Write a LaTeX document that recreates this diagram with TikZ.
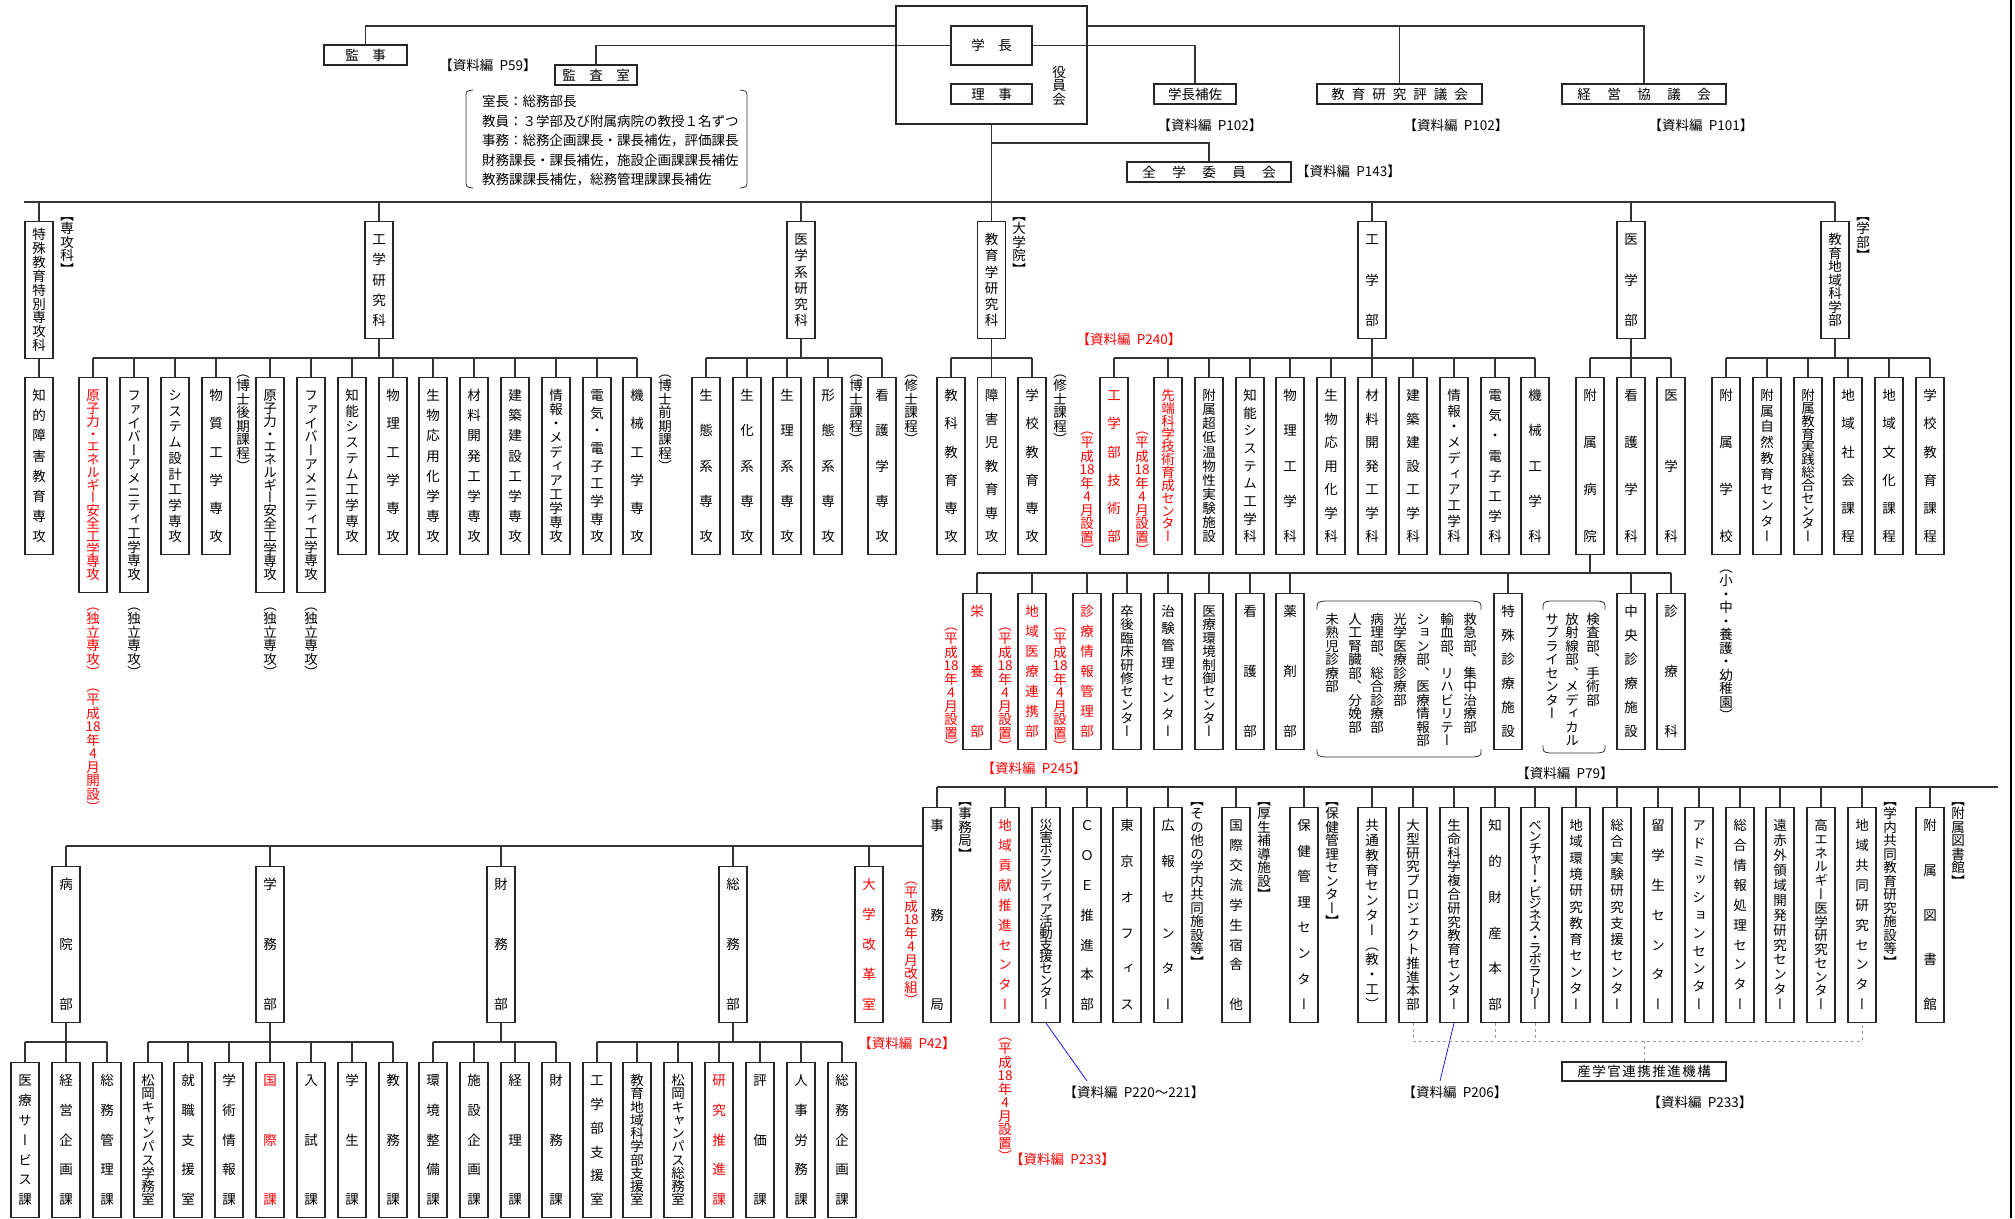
\documentclass[tikz,border=0pt]{standalone}
\usepackage{fontspec}
\setmainfont{Noto Sans CJK JP}
\newfontfamily\vjp[RawFeature=+vert]{Noto Sans CJK JP}
\definecolor{jred}{RGB}{255,0,0}
\definecolor{jblue}{RGB}{0,0,255}
\newcommand\fs{\fontsize{13.5}{16}\selectfont}
\newcommand\shiryo[1]{【資料編\hspace{.45em}P#1】}
\makeatletter
% one character per cell, cells stacked top to bottom
\newcommand\vtc[1]{\hbox to 1em{\hss\vrule height .88em depth .12em width 0pt\relax #1\hss}}
\def\vt@go#1#2#3{\vbox to \dimexpr#2pt-#3pt\relax{\offinterlineskip\vjp\let\vt@sep\relax
  \@tfor\vt@c:=#1\do{\vt@sep\vtc{\vt@c}\let\vt@sep\vss}}}
\newcommand\vt[3][24]{\expandafter\vt@go\expandafter{#3}{#2}{#1}}
\def\vtn@go#1{\vbox{\offinterlineskip\vjp\@tfor\vt@c:=#1\do{\vtc{\vt@c}}}}
\newcommand\vtn[1]{\expandafter\vtn@go\expandafter{#1}}
\newcommand\hsp[2]{\let\vt@sep\relax\@tfor\vt@c:=#2\do{\vt@sep\vt@c\def\vt@sep{\hspace{#1}}}}
\makeatother

\begin{document}
\begin{tikzpicture}[x=1pt, y=-1pt,
  unit/.style={draw=black!85, line width=1.1pt, fill=white, inner sep=0pt, minimum width=28pt, anchor=north, font=\fs},
  hbox/.style={draw=black!85, line width=1.1pt, inner sep=0pt, font=\fs},
  conn/.style={draw=black!80, line width=1.1pt},
  sglink/.style={draw=black!40, dashed, line width=0.7pt},
  reflink/.style={draw=jblue, line width=0.7pt},
  tag/.style={inner sep=0pt, anchor=north, font=\fs},
  ref/.style={inner sep=0pt, font=\fs}]
\useasboundingbox (0,0) rectangle (2015,1218);

% top management
\node[hbox, minimum width=191, minimum height=118] (yakuin) at (991.5,65) {};
\node[hbox, minimum width=81, minimum height=39] (gakucho) at (991.5,45.5) {学　長};
\node[hbox, minimum width=81, minimum height=20] (riji) at (991.5,94) {理　事};
\node[tag] (yakuinlbl) at (1059,65) {\vtn{役員会}};
\node[hbox, minimum width=83, minimum height=20] (kanji) at (365.5,55) {監　事};
\node[hbox, minimum width=82, minimum height=20] (kansa) at (596,75) {監　査　室};
\node[hbox, minimum width=82, minimum height=20] (hosa) at (1195,94) {学長補佐};
\node[hbox, minimum width=165, minimum height=20] (hyogi) at (1399.5,94) {\hsp{7pt}{教育研究評議会}};
\node[hbox, minimum width=164, minimum height=20] (keiei) at (1644,94) {\hsp{16.5pt}{経営協議会}};
\node[hbox, minimum width=164, minimum height=20] (zengaku) at (1209,172) {\hsp{16.5pt}{全学委員会}};

\node[ref] (r59) at (488,65) {\shiryo{59}};
\node[ref] (r102a) at (1210,125) {\shiryo{102}};
\node[ref] (r102b) at (1456,125) {\shiryo{102}};
\node[ref] (r101) at (1701,125) {\shiryo{101}};
\node[ref, anchor=west] (r143) at (1296,171) {\shiryo{143}};

\node[inner sep=0pt, anchor=north west, align=left, font={\fontsize{13.5}{19.5}\selectfont}] (memo) at (482,95)
  {室長：総務部長\\教員：３学部及び附属病院の教授１名ずつ\\事務：総務企画課長・課長補佐，評価課長\\財務課長・課長補佐，施設企画課課長補佐\\教務課課長補佐，総務管理課課長補佐};
\draw[black!80, line width=0.8pt] (473,90) .. controls (466,91) .. (466,98) -- (466,180) .. controls (466,187) .. (473,188);
\draw[black!80, line width=0.8pt] (740,90) .. controls (747,91) .. (747,98) -- (747,180) .. controls (747,187) .. (740,188);

\coordinate (rail) at (0,26);
\coordinate (zbr) at (0,143);
\coordinate (bus) at (0,202);
\draw[conn] (kanji.north) |- (yakuin.west |- rail);
\draw[conn] (yakuin.east |- rail) -| (keiei.north);
\draw[conn] (hyogi.north) -- (hyogi.north |- rail);
\draw[conn] (gakucho.west) -| (kansa.north);
\draw[conn] (gakucho.east) -| (hosa.north);
\draw[conn] (yakuin.south) -- (yakuin.south |- bus);
\draw[conn] (yakuin.south |- zbr) -| (zengaku.north);

% graduate schools and faculties
\node[unit, minimum height=137] (spc) at (39,221) {\vt[14]{137}{特殊教育特別専攻科}};
\draw[conn] (spc.north) -- (spc.north |- bus);
\foreach \x/\nm/\tx in {379/eng/工学研究科, 801/med/医学系研究科, 991.5/edu/教育学研究科,
                        1372/engf/工学部, 1631/medf/医学部, 1835/eduf/教育地域科学部}
{
  \node[unit, minimum height=117] (\nm) at (\x,221) {\vt{117}{\tx}};
  \draw[conn] (\nm.north) -- (\nm.north |- bus);
}
\draw[conn] (spc.north west |- bus) -- (eduf.north |- bus);
\node[tag] (t1) at (67,208) {\vtn{【専攻科】}};
\node[tag] (t2) at (1019,208) {\vtn{【大学院】}};
\node[tag] (t3) at (1863,208) {\vtn{【学部】}};

% majors and departments
\coordinate (b3) at (0,358);
\node[unit, minimum height=177] (sp1) at (39,377) {\vt{177}{知的障害教育専攻}};
\draw[conn] (spc.south) -- (sp1.north);
\foreach \x/\nm/\h/\cl/\tx in {
  93/ek1/215/jred/原子力・エネルギー安全工学専攻, 134/ek2/215/black/ファイバーアメニティ工学専攻,
  175/ek3/177/black/システム設計工学専攻, 216/ek4/177/black/物質工学専攻,
  270/ek5/215/black/原子力・エネルギー安全工学専攻, 311/ek6/215/black/ファイバーアメニティ工学専攻,
  352/ek7/177/black/知能システム工学専攻, 393/ek8/177/black/物理工学専攻,
  433/ek9/177/black/生物応用化学専攻, 474/ek10/177/black/材料開発工学専攻,
  515/ek11/177/black/建築建設工学専攻, 556/ek12/177/black/情報・メディア工学専攻,
  597/ek13/177/black/電気・電子工学専攻, 637/ek14/177/black/機械工学専攻,
  706/mk1/177/black/生態系専攻, 747/mk2/177/black/生化系専攻, 787/mk3/177/black/生理系専攻,
  828/mk4/177/black/形態系専攻, 882/mk5/177/black/看護学専攻,
  951/dk1/177/black/教科教育専攻, 991.5/dk2/177/black/障害児教育専攻, 1032/dk3/177/black/学校教育専攻,
  1114/fk1/177/jred/工学部技術部, 1168/fk2/177/jred/先端科学技術育成センター,
  1209/fk3/177/black/附属超低温物性実験施設, 1250/fk4/177/black/知能システム工学科,
  1290/fk5/177/black/物理工学科, 1331/fk6/177/black/生物応用化学科, 1372/fk7/177/black/材料開発工学科,
  1413/fk8/177/black/建築建設工学科, 1454/fk9/177/black/情報・メディア工学科,
  1495/fk10/177/black/電気・電子工学科, 1535/fk11/177/black/機械工学科,
  1590/hk1/177/black/附属病院, 1631/hk2/177/black/看護学科, 1671/hk3/177/black/医学科,
  1726/gk1/177/black/附属学校, 1767/gk2/177/black/附属自然教育センター,
  1808/gk3/177/black/附属教育実践総合センター, 1848/gk4/177/black/地域社会課程,
  1889/gk5/177/black/地域文化課程, 1930/gk6/177/black/学校教育課程}
{
  \node[unit, minimum height=\h, text=\cl] (\nm) at (\x,377) {\vt{\h}{\tx}};
  \draw[conn] (\nm.north) -- (\nm.north |- b3);
}
\draw[conn] (ek1.north |- b3) -- (ek14.north |- b3);
\draw[conn] (mk1.north |- b3) -- (mk5.north |- b3);
\draw[conn] (dk1.north |- b3) -- (dk3.north |- b3);
\draw[conn] (fk1.north |- b3) -- (fk11.north |- b3);
\draw[conn] (hk1.north |- b3) -- (hk3.north |- b3);
\draw[conn] (gk1.north |- b3) -- (gk6.north |- b3);
\foreach \nm in {eng, med, edu, engf, medf, eduf}
  \draw[conn] (\nm.south) -- (\nm.south |- b3);

\node[tag, text=jred] (n1) at (93,598) {\vtn{（独立専攻）（平成{18}年4月開設）}};
\node[tag] (n2) at (134,598) {\vtn{（独立専攻）}};
\node[tag] (n3) at (270,598) {\vtn{（独立専攻）}};
\node[tag] (n4) at (311,598) {\vtn{（独立専攻）}};
\node[tag] (n5) at (243,365) {\vtn{（博士後期課程）}};
\node[tag] (n6) at (665,365) {\vtn{（博士前期課程）}};
\node[tag] (n7) at (856,365) {\vtn{（博士課程）}};
\node[tag] (n8) at (911,365) {\vtn{（修士課程）}};
\node[tag] (n9) at (1060,365) {\vtn{（修士課程）}};
\node[tag, text=jred] (n10) at (1087,422) {\vtn{（平成{18}年4月設置）}};
\node[tag, text=jred] (n11) at (1142,422) {\vtn{（平成{18}年4月設置）}};
\node[tag] (n12) at (1726,560) {\vtn{（小・中・養護・幼稚園）}};
\node[ref, text=jred] (r240) at (1129,339) {\shiryo{240}};

% university hospital
\coordinate (b4) at (0,573);
\foreach \x/\nm/\cl/\tx in {
  977/ak1/jred/栄養部, 1032/ak2/jred/地域医療連携部, 1087/ak3/jred/診療情報管理部,
  1127/ak4/black/卒後臨床研修センター, 1168/ak5/black/治験管理センター,
  1209/ak6/black/医療環境制御センター, 1250/ak7/black/看護部, 1290/ak8/black/薬剤部,
  1508/ak9/black/特殊診療施設, 1631/ak10/black/中央診療施設, 1671/ak11/black/診療科}
{
  \node[unit, minimum height=156, text=\cl] (\nm) at (\x,593) {\vt{156}{\tx}};
  \draw[conn] (\nm.north) -- (\nm.north |- b4);
}
\draw[conn] (ak1.north |- b4) -- (ak11.north |- b4);
\draw[conn] (hk1.south) -- (hk1.south |- b4);
\node[tag, text=jred] (n13) at (951,618) {\vtn{（平成{18}年4月設置）}};
\node[tag, text=jred] (n14) at (1005,618) {\vtn{（平成{18}年4月設置）}};
\node[tag, text=jred] (n15) at (1060,618) {\vtn{（平成{18}年4月設置）}};

\node[tag] (bg1) at (1470,612) {\vtn{救急部、集中治療部}};
\node[tag] (bg2) at (1447,612) {\vtn{輸血部、リハビリテー}};
\node[tag] (bg3) at (1423,612) {\vtn{ション部、医療情報部}};
\node[tag] (bg4) at (1400,612) {\vtn{光学医療診療部}};
\node[tag] (bg5) at (1377,612) {\vtn{病理部、総合診療部}};
\node[tag] (bg6) at (1355,612) {\vtn{人工腎臓部、分娩部}};
\node[tag] (bg7) at (1332,612) {\vtn{未熟児診療部}};
\draw[black!80, line width=0.8pt] (1317,610) .. controls (1317,602) .. (1325,601) -- (1473,601) .. controls (1481,602) .. (1481,610);
\draw[black!80, line width=0.8pt] (1317,749) .. controls (1317,756) .. (1325,757) -- (1473,757) .. controls (1481,756) .. (1481,749);
\node[tag] (bh1) at (1593,612) {\vtn{検査部、手術部}};
\node[tag] (bh2) at (1572,612) {\vtn{放射線部、メディカル}};
\node[tag] (bh3) at (1552,612) {\vtn{サプライセンター}};
\draw[black!80, line width=0.8pt] (1543,610) .. controls (1543,602) .. (1550,601) -- (1598,601) .. controls (1605,602) .. (1605,610);
\draw[black!80, line width=0.8pt] (1543,745) .. controls (1543,752) .. (1550,753) -- (1598,753) .. controls (1605,752) .. (1605,745);
\node[ref, text=jred] (r245) at (1034,768) {\shiryo{245}};
\node[ref] (r79) at (1565,773) {\shiryo{79}};

% administration bureau and shared facilities
\coordinate (b5) at (0,787);
\coordinate (jend) at (1998,787);
\foreach \x/\nm/\cl/\tx in {
  937/jm/black/事務局, 1005/rk1/jred/地域貢献推進センター,
  1046/rk2/black/災害ボランティア活動支援センター, 1087/rk3/black/ＣＯＥ推進本部,
  1127/rk4/black/東京オフィス, 1168/rk5/black/広報センター, 1236/rk6/black/国際交流学生宿舎　他,
  1304/rk7/black/保健管理センター, 1372/rk8/black/共通教育センター（教・工）,
  1413/rk9/black/大型研究プロジェクト推進本部, 1454/rk10/black/生命科学複合研究教育センター,
  1495/rk11/black/知的財産本部, 1535/rk12/black/ベンチャー・ビジネス・ラボラトリー,
  1576/rk13/black/地域環境研究教育センター, 1617/rk14/black/総合実験研究支援センター,
  1658/rk15/black/留学生センター, 1699/rk16/black/アドミッションセンター,
  1740/rk17/black/総合情報処理センター, 1780/rk18/black/遠赤外領域開発研究センター,
  1821/rk19/black/高エネルギー医学研究センター, 1862/rk20/black/地域共同研究センター,
  1930/rk21/black/附属図書館}
{
  \node[unit, minimum height=215, text=\cl] (\nm) at (\x,807) {\vt{215}{\tx}};
  \draw[conn] (\nm.north) -- (\nm.north |- b5);
}
\draw[conn] (jm.north |- b5) -- (jend);
\node[tag] (t4) at (965,793) {\vtn{【事務局】}};
\node[tag] (t5) at (1197,793) {\vtn{【その他の学内共同施設等】}};
\node[tag] (t6) at (1264,793) {\vtn{【厚生補導施設】}};
\node[tag] (t7) at (1332,793) {\vtn{【保健管理センター】}};
\node[tag] (t8) at (1890,793) {\vtn{【学内共同教育研究施設等】}};
\node[tag] (t9) at (1958,793) {\vtn{【附属図書館】}};
\node[tag, text=jred] (n16) at (1005,1028) {\vtn{（平成{18}年4月設置）}};
\node[ref, text=jred, anchor=west] (r233a) at (1010,1159) {\shiryo{233}};

\coordinate (b220) at (1087,1081);
\coordinate (b206) at (1440,1081);
\draw[reflink] (rk2.south) -- (b220);
\draw[reflink] (rk10.south) -- (b206);
\node[ref] (r220) at (1134,1092) {\shiryo{220～221}};
\node[ref] (r206) at (1455,1092) {\shiryo{206}};

\coordinate (sgbus) at (0,1041);
\node[hbox, minimum width=164, minimum height=19] (sangaku) at (1644,1071.5) {\hsp{1.5pt}{産学官連携推進機構}};
\draw[sglink] (rk9.south) |- (rk20.south |- sgbus) -- (rk20.south);
\foreach \nm in {rk11, rk12}
  \draw[sglink] (\nm.south) -- (\nm.south |- sgbus);
\draw[sglink] (sangaku.north) -- (sangaku.north |- sgbus);
\node[ref] (r233b) at (1700,1102) {\shiryo{233}};

% divisions of the bureau
\coordinate (b6) at (0,846);
\foreach \x/\nm/\cl/\tx in {66/bu1/black/病院部, 270/bu2/black/学務部, 501/bu3/black/財務部,
                            733/bu4/black/総務部, 869/bu5/jred/大学改革室}
{
  \node[unit, minimum height=156, text=\cl] (\nm) at (\x,866) {\vt{156}{\tx}};
  \draw[conn] (\nm.north) -- (\nm.north |- b6);
}
\draw[conn] (bu1.north |- b6) -- (jm.west |- b6);
\node[tag, text=jred] (n17) at (911,872) {\vtn{（平成{18}年4月改組）}};
\node[ref, text=jred] (r42) at (907,1043) {\shiryo{42}};

\coordinate (b7) at (0,1042);
\foreach \x/\nm/\cl/\tx in {
  25/ka1/black/医療サービス課, 66/ka2/black/経営企画課, 107/ka3/black/総務管理課,
  148/ga1/black/松岡キャンパス学務室, 188/ga2/black/就職支援室, 229/ga3/black/学術情報課,
  270/ga4/jred/国際課, 311/ga5/black/入試課, 352/ga6/black/学生課, 393/ga7/black/教務課,
  433/za1/black/環境整備課, 474/za2/black/施設企画課, 515/za3/black/経理課, 556/za4/black/財務課,
  597/sa1/black/工学部支援室, 637/sa2/black/教育地域科学部支援室, 678/sa3/black/松岡キャンパス総務室,
  719/sa4/jred/研究推進課, 760/sa5/black/評価課, 801/sa6/black/人事労務課, 842/sa7/black/総務企画課}
{
  \node[unit, minimum height=155, text=\cl] (\nm) at (\x,1062) {\vt{155}{\tx}};
  \draw[conn] (\nm.north) -- (\nm.north |- b7);
}
\draw[conn] (ka1.north |- b7) -- (ka3.north |- b7);
\draw[conn] (ga1.north |- b7) -- (ga7.north |- b7);
\draw[conn] (za1.north |- b7) -- (za4.north |- b7);
\draw[conn] (sa1.north |- b7) -- (sa7.north |- b7);
\foreach \nm in {bu1, bu2, bu3, bu4}
  \draw[conn] (\nm.south) -- (\nm.south |- b7);

\draw[line width=2.5pt] (2011,0) -- (2011,1218);
\end{tikzpicture}
\end{document}
